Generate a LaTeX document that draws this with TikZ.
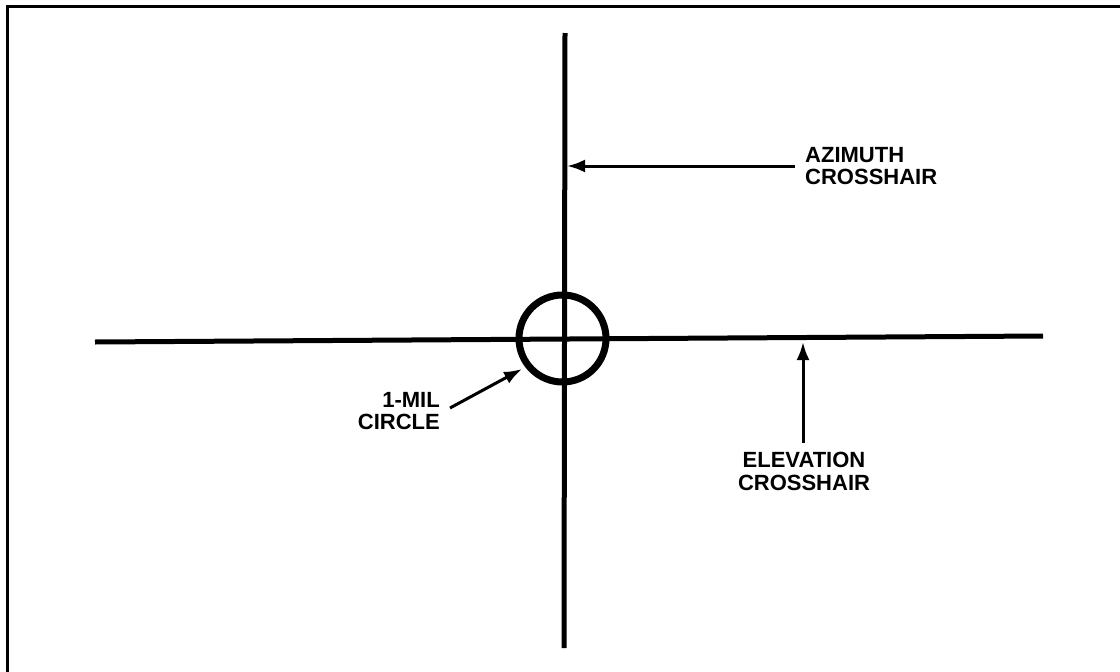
\documentclass[tikz,border=0pt]{standalone}
\usepackage{fontspec}
\setmainfont{Liberation Sans}
\usetikzlibrary{arrows.meta}
\begin{document}
\begin{tikzpicture}[x=1pt,y=-1pt,
  frameline/.style={line width=3pt},
  hairline/.style={line width=5pt},
  ringstyle/.style={circle,draw,line width=7pt,minimum size=87pt,inner sep=0pt},
  pointer/.style={line width=3pt,-{Latex[length=18pt,width=13pt]}},
  lbl/.style={font=\bfseries\fontsize{22}{22.5}\selectfont,inner sep=0pt}]
\useasboundingbox (0,0) rectangle (1120,672);
\draw[frameline] (7,672) -- (7,6) -- (1120,6);
% crosshairs
\coordinate (vtop) at (565,33);
\coordinate (vbot) at (564,648);
\coordinate (hleft) at (95,342);
\coordinate (hright) at (1043,336);
\draw[hairline] (vtop) -- (vbot);
\draw[hairline] (hleft) -- (hright);
\node[ringstyle] (ring) at (562.5,338.5) {};
% labels
\node[lbl,anchor=north west,align=left] (az) at (805,147) {AZIMUTH\\CROSSHAIR};
\node[lbl,anchor=north,align=center] (el) at (804,452) {ELEVATION\\CROSSHAIR};
\node[lbl,anchor=north east,align=right] (mil) at (440,392) {1-MIL\\CIRCLE};
% arrows
\coordinate (aztail) at (795,166);
\coordinate (aztip) at (567,166);
\coordinate (eltail) at (803,443);
\coordinate (eltip) at (803,342);
\coordinate (miltail) at (450,408);
\coordinate (miltip) at (522,369);
\draw[pointer] (aztail) -- (aztip);
\draw[pointer] (eltail) -- (eltip);
\draw[pointer] (miltail) -- (miltip);
\end{tikzpicture}
\end{document}
